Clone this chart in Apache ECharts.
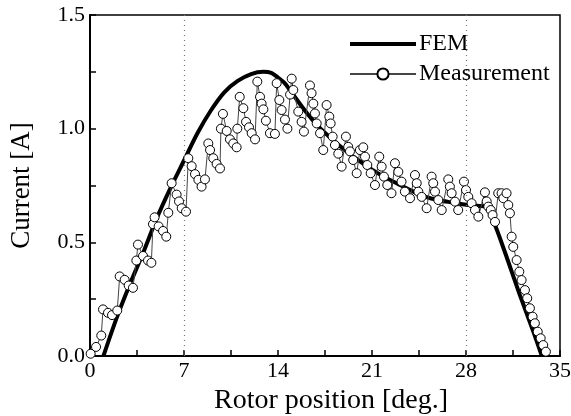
<!DOCTYPE html>
<html><head><meta charset="utf-8">
<script src="https://cdn.jsdelivr.net/npm/echarts@6/dist/echarts.min.js"></script>
<style>html,body{margin:0;padding:0;background:#fff}#c{width:571px;height:416px}</style>
</head><body><div id="c"></div>
<script>
const xTicks = [0, 7, 14, 21, 28, 35];
const yTicks = [0.0, 0.5, 1.0, 1.5];
const femX = [1.0, 2, 3, 4, 5, 6, 7, 8, 9, 10, 11, 12, 12.9, 13.5, 14, 14.5, 15, 16, 17, 18, 19, 20, 21, 22, 23, 24, 25, 26, 27, 28, 29, 29.5, 30.0, 31, 32, 33, 33.65];
const femY = [0.0, 0.17, 0.32, 0.46, 0.61, 0.74, 0.86, 0.98, 1.08, 1.16, 1.21, 1.24, 1.25, 1.245, 1.225, 1.2, 1.16, 1.08, 1.01, 0.955, 0.905, 0.86, 0.82, 0.785, 0.755, 0.725, 0.70, 0.685, 0.675, 0.665, 0.66, 0.655, 0.6, 0.44, 0.27, 0.11, 0.0];
const measX = [0.05, 0.45, 0.84, 0.97, 1.34, 1.64, 2.03, 2.21, 2.58, 2.88, 3.2, 3.45, 3.57, 3.95, 4.32, 4.57, 4.69, 4.81, 5.11, 5.44, 5.68, 5.83, 6.08, 6.45, 6.63, 6.83, 7.15, 7.32, 7.57, 7.82, 8.07, 8.31, 8.56, 8.81, 8.94, 9.18, 9.43, 9.68, 9.75, 9.9, 10.18, 10.42, 10.67, 10.92, 10.97, 11.15, 11.42, 11.62, 11.84, 12.04, 12.29, 12.46, 12.66, 12.78, 12.91, 13.1, 13.4, 13.77, 13.9, 14.1, 14.27, 14.52, 14.7, 14.9, 15.02, 15.14, 15.51, 15.76, 15.93, 16.38, 16.5, 16.63, 16.75, 16.88, 17.13, 17.37, 17.62, 17.82, 17.92, 18.07, 18.24, 18.49, 18.74, 19.06, 19.23, 19.36, 19.6, 19.86, 20.1, 20.35, 20.48, 20.65, 20.9, 21.22, 21.54, 21.72, 21.89, 22.14, 22.45, 22.71, 22.96, 23.2, 23.45, 23.83, 24.2, 24.33, 24.45, 24.7, 25.07, 25.44, 25.56, 25.69, 25.94, 26.19, 26.68, 26.8, 26.93, 27.18, 27.42, 27.85, 28.0, 28.17, 28.42, 28.67, 28.92, 29.41, 29.54, 29.66, 29.84, 29.98, 30.16, 30.4, 30.65, 30.78, 31.02, 31.15, 31.27, 31.4, 31.52, 31.77, 31.97, 32.14, 32.39, 32.56, 32.76, 32.96, 33.13, 33.34, 33.56, 33.75, 33.95];
const measY = [0.01, 0.04, 0.09, 0.205, 0.19, 0.18, 0.2, 0.35, 0.335, 0.31, 0.30, 0.42, 0.49, 0.44, 0.42, 0.41, 0.58, 0.61, 0.57, 0.55, 0.525, 0.63, 0.76, 0.71, 0.68, 0.65, 0.635, 0.87, 0.835, 0.80, 0.775, 0.745, 0.777, 0.935, 0.906, 0.87, 0.845, 0.825, 1.0, 1.065, 0.99, 0.953, 0.935, 0.918, 1.0, 1.14, 1.09, 1.03, 1.006, 0.98, 0.953, 1.207, 1.14, 1.11, 1.085, 1.035, 0.98, 0.977, 1.2, 1.126, 1.082, 1.04, 1.0, 1.15, 1.22, 1.17, 1.075, 1.03, 0.987, 1.19, 1.156, 1.11, 1.067, 1.023, 0.98, 0.906, 1.104, 1.053, 1.023, 0.965, 0.928, 0.89, 0.833, 0.965, 0.92, 0.9, 0.862, 0.804, 0.906, 0.918, 0.877, 0.84, 0.804, 0.752, 0.877, 0.833, 0.789, 0.752, 0.716, 0.848, 0.81, 0.767, 0.723, 0.694, 0.796, 0.76, 0.723, 0.70, 0.65, 0.789, 0.76, 0.723, 0.686, 0.642, 0.777, 0.745, 0.716, 0.679, 0.642, 0.767, 0.73, 0.70, 0.672, 0.642, 0.613, 0.72, 0.68, 0.657, 0.642, 0.62, 0.59, 0.716, 0.716, 0.694, 0.716, 0.664, 0.628, 0.525, 0.48, 0.422, 0.371, 0.334, 0.29, 0.254, 0.21, 0.173, 0.144, 0.107, 0.078, 0.048, 0.019];
const dottedGridX = [7, 28];

const font = '"Liberation Serif", "Times New Roman", serif';
const chart = echarts.init(document.getElementById('c'), null, {renderer: 'canvas'});
chart.setOption({
  animation: false,
  backgroundColor: '#fff',
  grid: {left: 90, right: 11, top: 15, bottom: 60, containLabel: false, outerBoundsMode: 'none', show: true, borderColor: '#000', borderWidth: 1.5, backgroundColor: 'transparent'},
  legend: {
    orient: 'vertical', left: 349, top: 32, padding: 0, itemGap: 6, itemWidth: 66, itemHeight: 14,
    textStyle: {fontFamily: font, fontSize: 24, color: '#000', padding: [0, 0, 0, -2]},
    data: [
      {name: 'FEM', icon: 'path://M0 0H66V4H0Z', itemStyle: {color: '#000'}},
      {name: 'Measurement'}
    ]
  },
  xAxis: {
    type: 'value', min: 0, max: 35, interval: 7,
    axisLine: {lineStyle: {color: '#000', width: 2}},
    axisTick: {inside: true, length: 6, lineStyle: {color: '#000', width: 1.5}},
    minorTick: {show: true, splitNumber: 2, length: 6, lineStyle: {color: '#000', width: 1.5}},
    axisLabel: {fontFamily: font, fontSize: 22, color: '#000', margin: 4, formatter: v => xTicks.includes(v) ? String(v) : ''},
    splitLine: {show: false},
    name: 'Rotor position [deg.]', nameLocation: 'middle', nameGap: 30,
    nameTextStyle: {fontFamily: font, fontSize: 28, color: '#000', padding: [0, 0, 0, 12]}
  },
  yAxis: {
    type: 'value', min: 0, max: 1.5, interval: 0.5,
    axisLine: {lineStyle: {color: '#000', width: 2}},
    axisTick: {inside: true, length: 6, lineStyle: {color: '#000', width: 1.5}},
    minorTick: {show: true, splitNumber: 2, length: 6, lineStyle: {color: '#000', width: 1.5}},
    axisLabel: {fontFamily: font, fontSize: 22, color: '#000', margin: 5, formatter: v => yTicks.includes(v) ? v.toFixed(1) : ''},
    splitLine: {show: false},
    name: 'Current [A]', nameLocation: 'middle', nameGap: 55, nameRotate: 90,
    nameTextStyle: {fontFamily: font, fontSize: 27, color: '#000'}
  },
  series: [
    {
      name: 'Measurement', type: 'line', z: 3,
      data: measX.map((x, i) => [x, measY[i]]),
      symbol: 'circle', symbolSize: 9,
      itemStyle: {color: '#fff', borderColor: '#000', borderWidth: 1},
      lineStyle: {color: '#444', width: 1},
      markLine: {
        silent: true, symbol: 'none', label: {show: false},
        lineStyle: {color: '#777', type: [1, 4], width: 1.2},
        data: dottedGridX.map(v => ({xAxis: v}))
      }
    },
    {
      name: 'FEM', type: 'line', z: 2,
      data: femX.map((x, i) => [x, femY[i]]),
      symbol: 'none', smooth: 0.3,
      itemStyle: {color: '#000'},
      lineStyle: {color: '#000', width: 4}
    }
  ]
});
</script></body></html>
